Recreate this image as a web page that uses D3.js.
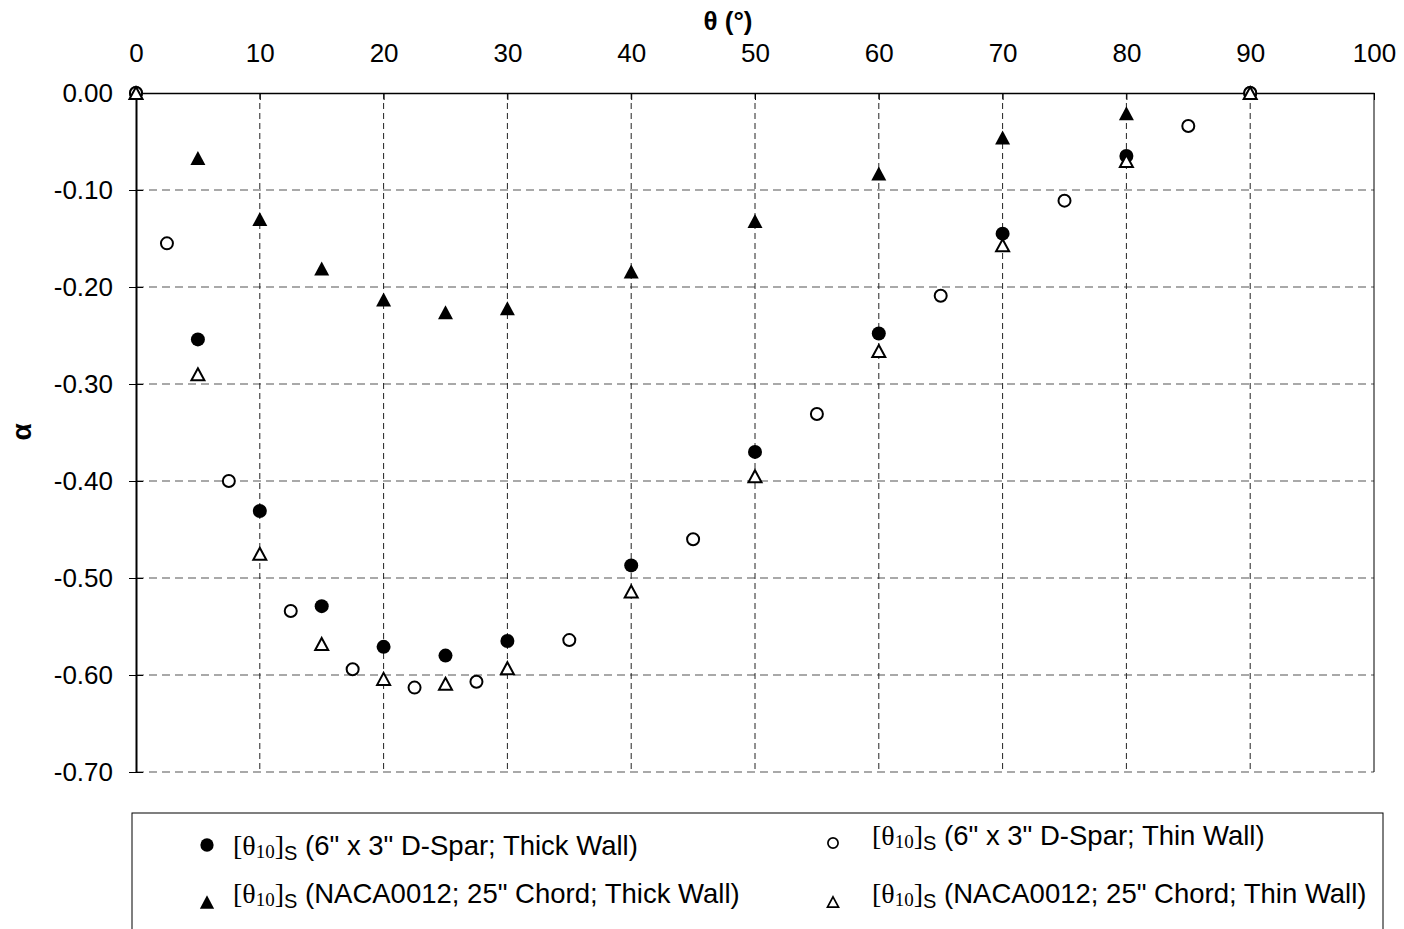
<!DOCTYPE html>
<html>
<head>
<meta charset="utf-8">
<script src="https://cdn.jsdelivr.net/npm/d3@7"></script>
<style>
  html, body { margin: 0; padding: 0; background: #fff; }
  svg { display: block; }
  text { font-family: "Liberation Sans", Arial, sans-serif; fill: #000; }
</style>
</head>
<body>
<svg id="chart" width="1404" height="929"></svg>
<script>
// Fibre angle θ (degrees) and bend-twist coupling α for the four laminates
const thetaMain = [0, 5, 10, 15, 20, 25, 30, 40, 50, 60, 70, 80, 90];
const thetaThin = [0, 2.5, 7.5, 12.5, 17.5, 22.5, 27.5, 35, 45, 55, 65, 75, 85, 90];

const dsparThick = [0, -0.254, -0.431, -0.529, -0.571, -0.580, -0.565, -0.487, -0.370, -0.248, -0.145, -0.065, 0];
const dsparThin  = [0, -0.155, -0.400, -0.534, -0.594, -0.613, -0.607, -0.564, -0.460, -0.331, -0.209, -0.111, -0.034, 0];
const nacaThick  = [0, -0.067, -0.130, -0.181, -0.213, -0.226, -0.222, -0.184, -0.132, -0.083, -0.046, -0.021, 0];
const nacaThin   = [0, -0.290, -0.475, -0.568, -0.604, -0.609, -0.593, -0.514, -0.395, -0.266, -0.157, -0.070, 0];

const xTicks = [0, 10, 20, 30, 40, 50, 60, 70, 80, 90, 100];
const yTicks = [0, -0.1, -0.2, -0.3, -0.4, -0.5, -0.6, -0.7];

const seriesNames = [
  "(6\" x 3\" D-Spar; Thick Wall)",
  "(6\" x 3\" D-Spar; Thin Wall)",
  "(NACA0012; 25\" Chord; Thick Wall)",
  "(NACA0012; 25\" Chord; Thin Wall)"
];

const svg = d3.select("#chart");
const plot = { left: 136, top: 93, right: 1374, bottom: 772 };

const x = d3.scaleLinear().domain([0, 100]).range([plot.left, plot.right]);
const y = d3.scaleLinear().domain([0, -0.7]).range([plot.top, plot.bottom]);

// Grid lines
const grid = svg.append("g");
grid.selectAll("line.h").data(yTicks.filter(v => v !== 0)).join("line")
  .attr("x1", plot.left).attr("x2", plot.right)
  .attr("y1", d => y(d)).attr("y2", d => y(d))
  .attr("stroke", "#555").attr("stroke-width", 1.2).attr("stroke-dasharray", "8,5");
grid.selectAll("line.v").data(xTicks.filter(v => v > 0 && v < 100)).join("line")
  .attr("x1", d => x(d)).attr("x2", d => x(d))
  .attr("y1", plot.top).attr("y2", plot.bottom)
  .attr("stroke", "#222").attr("stroke-width", 1).attr("stroke-dasharray", "6,4");

// Right border of the plot area
svg.append("line")
  .attr("x1", plot.right).attr("x2", plot.right)
  .attr("y1", plot.top).attr("y2", plot.bottom)
  .attr("stroke", "#000").attr("stroke-width", 1);

// Top (θ) axis
const xAxis = d3.axisTop(x).tickValues(xTicks).tickFormat(d3.format("d"))
  .tickSizeInner(-7).tickSizeOuter(0).tickPadding(31);
const gx = svg.append("g").attr("transform", `translate(0,${plot.top})`).call(xAxis);
gx.select(".domain").attr("stroke", "#000").attr("stroke-width", 1.5);
gx.selectAll(".tick line").attr("stroke", "#000");
gx.selectAll(".tick text").attr("font-size", 26).attr("font-family", "Liberation Sans, Arial, sans-serif");

// Left (α) axis
const yAxis = d3.axisLeft(y).tickValues(yTicks).tickFormat(d3.format(".2f"))
  .tickSize(7).tickSizeOuter(0).tickPadding(16);
const gy = svg.append("g").attr("transform", `translate(${plot.left},0)`).call(yAxis);
gy.select(".domain").attr("stroke", "#000").attr("stroke-width", 2);
gy.selectAll(".tick line").attr("stroke", "#000").attr("x2", 7).attr("x1", -7);
gy.selectAll(".tick text").attr("font-size", 26).attr("font-family", "Liberation Sans, Arial, sans-serif")
  .text(d => d3.format(".2f")(d).replace("−", "-"));

// Axis titles
svg.append("text").attr("x", 728).attr("y", 30).attr("text-anchor", "middle")
  .attr("font-size", 26).attr("font-weight", "bold").text("θ (°)");
svg.append("text").attr("transform", "translate(31,432) rotate(-90)").attr("text-anchor", "middle")
  .attr("font-size", 28).attr("font-weight", "bold").text("α");

// Marker shapes
function triPath(w, h) {
  return `M0,${-h / 2}L${w / 2},${h / 2}L${-w / 2},${h / 2}Z`;
}
const markers = [
  { draw: g => g.append("circle").attr("r", 7).attr("fill", "#000") },
  { draw: g => g.append("circle").attr("r", 6).attr("fill", "#fff").attr("stroke", "#000").attr("stroke-width", 2) },
  { draw: g => g.append("path").attr("d", triPath(15, 14)).attr("fill", "#000") },
  { draw: g => g.append("path").attr("d", triPath(13, 12)).attr("fill", "#fff").attr("stroke", "#000").attr("stroke-width", 2) }
];

const series = [
  { xs: thetaMain, ys: dsparThick, m: 0 },
  { xs: thetaThin, ys: dsparThin, m: 1 },
  { xs: thetaMain, ys: nacaThick, m: 2 },
  { xs: thetaMain, ys: nacaThin, m: 3 }
];

series.forEach(s => {
  const pts = s.xs.map((t, i) => [t, s.ys[i]]);
  svg.append("g").selectAll("g").data(pts).join("g")
    .attr("transform", d => `translate(${x(d[0])},${y(d[1])})`)
    .each(function () { markers[s.m].draw(d3.select(this)); });
});

// Legend
const legend = svg.append("g");
legend.append("rect").attr("x", 132).attr("y", 813).attr("width", 1251).attr("height", 130)
  .attr("fill", "#fff").attr("stroke", "#000").attr("stroke-width", 1);

const legendPos = [
  { mx: 207, my: 845, tx: 233, ty: 855, scale: 0.95 },
  { mx: 833, my: 843, tx: 872, ty: 845, scale: 0.85 },
  { mx: 207, my: 902, tx: 233, ty: 903, scale: 0.95 },
  { mx: 833, my: 902, tx: 872, ty: 903, scale: 0.85 }
];

legendPos.forEach((p, i) => {
  const mg = legend.append("g").attr("transform", `translate(${p.mx},${p.my}) scale(${p.scale})`);
  markers[i].draw(mg);
  const t = legend.append("text").attr("x", p.tx).attr("y", p.ty).attr("font-size", 27.5);
  const serif = "Liberation Serif, Times New Roman, serif";
  t.append("tspan").attr("font-family", serif).attr("font-size", 28).text("[θ");
  t.append("tspan").attr("font-family", serif).attr("font-size", 19).attr("dy", 3).text("10");
  t.append("tspan").attr("font-family", serif).attr("font-size", 28).attr("dy", -3).text("]");
  t.append("tspan").attr("font-size", 20).attr("dy", 5).text("S");
  t.append("tspan").attr("dy", -5).text(" " + seriesNames[i]);
});
</script>
</body>
</html>
